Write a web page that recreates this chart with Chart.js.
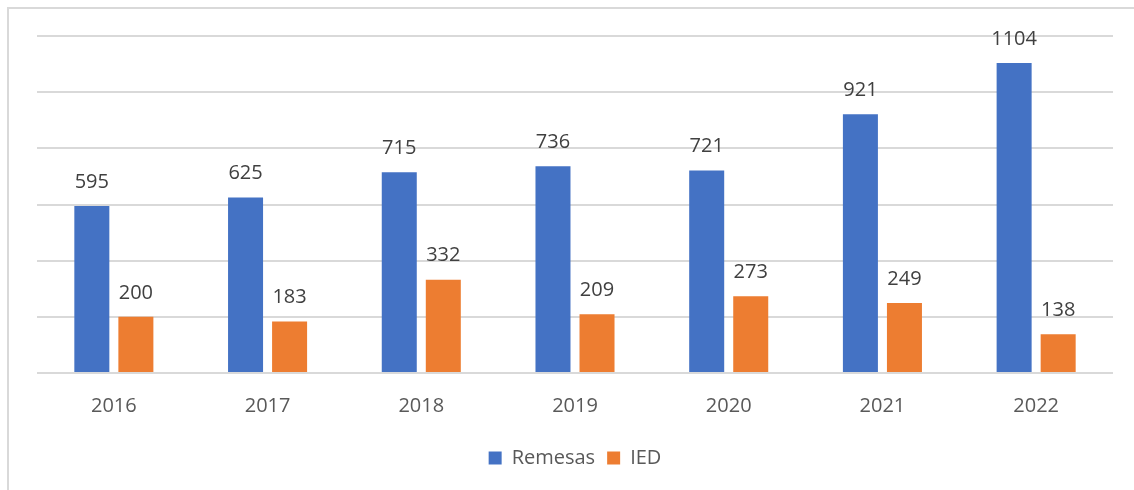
<!DOCTYPE html>
<html>
<head>
<meta charset="utf-8">
<script src="https://cdn.jsdelivr.net/npm/chart.js@4.4.1/dist/chart.umd.min.js"></script>
<style>
  html, body { margin: 0; padding: 0; background: #fff; }
  #wrap { position: relative; width: 1134px; height: 490px; }
  #frame {
    position: absolute; left: 7px; top: 7px; right: 0; bottom: 0;
    border-left: 2px solid #d9d9d9; border-top: 2px solid #d9d9d9;
  }
  canvas { position: absolute; left: 0; top: 0; }
</style>
</head>
<body>
<div id="wrap">
  <div id="frame"></div>
  <canvas id="grafico" width="1134" height="490"></canvas>
</div>
<script>
var anos = ['2016', '2017', '2018', '2019', '2020', '2021', '2022'];
var remesas = [595, 625, 715, 736, 721, 921, 1104];
var ied = [200, 183, 332, 209, 273, 249, 138];
var yTicks = [0, 200, 400, 600, 800, 1000, 1200];

// etiquetas em cima das barras (sem plugin externo)
var etiquetas = {
  id: 'etiquetas',
  afterDatasetsDraw: function (chart) {
    var ctx = chart.ctx;
    ctx.save();
    ctx.font = '20px "Open Sans"';
    ctx.fillStyle = '#404040';
    ctx.textAlign = 'center';
    ctx.textBaseline = 'bottom';
    chart.data.datasets.forEach(function (ds, i) {
      chart.getDatasetMeta(i).data.forEach(function (bar, j) {
        ctx.fillText(ds.data[j], bar.x, bar.y - 14);
      });
    });
    ctx.restore();
  }
};

new Chart(document.getElementById('grafico'), {
  type: 'bar',
  data: {
    labels: anos,
    datasets: [
      { label: 'Remesas', data: remesas, backgroundColor: '#4472C4' },
      { label: 'IED', data: ied, backgroundColor: '#ED7D31' }
    ]
  },
  options: {
    responsive: false,
    animation: false,
    datasets: { bar: { categoryPercentage: 0.573, barPercentage: 0.795 } },
    layout: { padding: { left: 37, right: 21, top: 36, bottom: 12 } },
    plugins: {
      tooltip: { enabled: false },
      legend: {
        position: 'bottom',
        labels: {
          boxWidth: 13, boxHeight: 13, color: '#595959',
          font: { family: '"Open Sans"', size: 20 }, padding: 12
        }
      }
    },
    scales: {
      y: {
        min: yTicks[0], max: yTicks[yTicks.length - 1],
        afterBuildTicks: function (s) { s.ticks = yTicks.map(function (v) { return { value: v }; }); },
        ticks: { display: false },
        grid: { color: '#d9d9d9', lineWidth: 2, drawTicks: false },
        border: { display: false },
        afterFit: function (s) { s.width = 0; }
      },
      x: {
        grid: { display: false },
        border: { display: false },
        ticks: { color: '#595959', font: { family: '"Open Sans"', size: 20 }, padding: 13 },
        afterFit: function (s) { s.height += 5; }
      }
    }
  },
  plugins: [etiquetas]
});
</script>
</body>
</html>
